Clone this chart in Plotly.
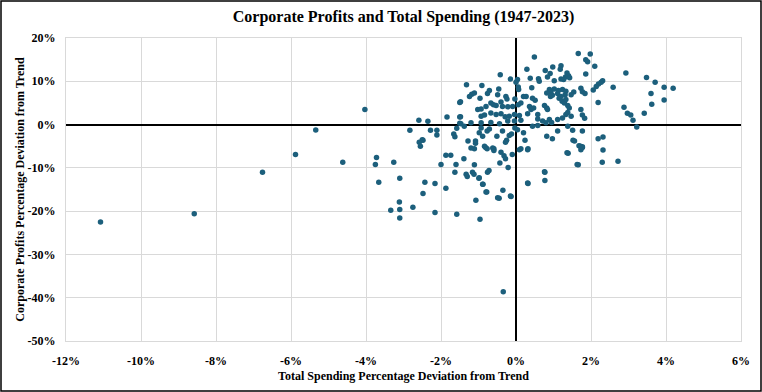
import plotly.graph_objects as go

# Total spending % deviation from trend (x) and corporate profits % deviation from trend (y)
spending_dev = [
    # upper central cluster
    1.66, 0.49, 0.29, 0.78, 0.98, 1.20, 1.18, 0.91, 1.36, 1.40, 1.32, -0.42,
    -0.15, 0.04, 0.00, 0.38, 0.60, 0.62, 0.84, 1.20, 1.02, 1.27, 1.43, -1.32, -0.91,
    0.06, 0.07, 0.42, 0.89, 0.93, 0.82, 1.02, 1.13, 1.24, 1.33, 1.54, -0.71, -0.46,
    -1.18, -1.11, -1.24, -0.76, -0.49, -0.27, -0.24, -0.03, 0.20, 0.27, 0.44, 0.51,
    0.92, 0.97, 1.11, 1.15, 1.20, 1.31, 1.47,
    -0.96, -1.48, -0.80, -0.67, -0.60, -0.53, -0.40, -0.36, -0.22, -0.09, 0.06, 0.13,
    0.36, 0.40, 0.47, 0.76, 0.82, 0.84, 1.23, 1.29, 1.33, 1.38, 1.42, -0.93, -1.02,
    -1.48, -0.93, -0.84, -0.67, -0.53, -0.40, -0.29, -0.18, -0.04, 0.09, 0.31, 0.58,
    0.58, 0.71, 0.80, 0.89, 0.95, 1.11, 1.24, 1.33, 1.38, 1.47, -1.47, -1.20, -0.93,
    -0.67, -0.44, -0.22, -0.04, 0.13,
    -1.38, -0.93, -0.98, -0.89, -0.77, -0.71, -0.51, -0.36, -0.18, -0.12, -0.03, 0.04,
    0.20, 0.44, 0.58, 0.82, 1.11, 1.38, 1.51,
    # left of centre, near zero
    -4.03, -2.83, -2.59, -2.35, -1.84, -2.28, -2.11, -2.11, -1.50, -1.50, -1.50, -1.58,
    -1.66, -1.63, -2.50, -2.58, -2.48, -2.55,
    # lower central cluster
    -1.28, -1.08, -1.08, -1.11, -1.39, -1.11, -1.16, -1.12, -1.30, -0.99, -0.88, -0.76,
    -0.72, -0.78, -1.07, -0.96, -0.45, -0.35, -0.13, -0.21, -0.43, -0.10, -0.40, -0.32,
    -0.28, -0.59, -0.59, -0.81, -0.25, -0.28, 0.13, 0.32, 0.24, 0.97, 0.32, 0.77, 0.77,
    1.39, 1.52, 1.56, 1.66, 1.68, 1.72, 1.73, 1.36, 1.63, 0.31, 0.09, 0.76, 0.31,
    -0.84, -0.62, -0.77, -1.20, -1.33, -0.98, -0.89, -0.80, -0.49, -0.15,
    # right side
    1.98, 1.86, 1.91, 2.10, 1.86, 2.93, 3.48, 3.71, 3.95, 4.19, 3.60, 3.95, 3.62, 2.59,
    2.31, 2.27, 2.20, 2.14, 2.06, 1.73, 1.77, 1.84, 2.19, 1.73, 1.77, 1.83, 2.88, 2.97,
    3.06, 3.12, 3.42, 3.22, 1.77, 2.19, 2.32, 2.32, 2.30, 2.72, 1.77, 1.77,
    # far left and lower left
    -5.34, -5.88, -6.76, -4.62, -3.72, -3.75, -3.66, -3.26, -3.10, -2.43, -2.16, -2.48,
    -1.87, -3.11, -3.34, -3.10, -2.75, -3.10, -2.16, -1.58, -2.00, -1.87, -1.74, -1.60,
    -1.63, -11.08, -8.58, -0.34,
]

profits_dev = [
    16.4, 15.6, 12.8, 12.5, 13.3, 13.6, 12.8, 11.8, 11.9, 11.3, 11.0, 11.5,
    10.5, 10.4, 9.8, 10.7, 10.6, 10.0, 11.0, 10.5, 10.1, 10.4, 10.8, 9.2, 9.0,
    8.7, 8.1, 8.5, 8.1, 7.6, 7.3, 8.2, 7.9, 8.1, 7.7, 7.5, 7.9, 8.2,
    7.0, 7.3, 6.5, 7.2, 6.9, 6.5, 5.9, 5.9, 6.5, 6.5, 6.1, 5.6,
    6.5, 6.8, 7.2, 6.1, 6.5, 6.9, 6.9,
    6.1, 5.3, 4.2, 5.0, 4.6, 4.4, 5.2, 4.2, 4.1, 4.2, 4.6, 5.0,
    4.2, 3.5, 3.8, 4.4, 3.8, 3.5, 5.4, 5.0, 5.8, 4.4, 3.8, 3.6, 3.5,
    1.8, 1.9, 2.2, 2.7, 2.3, 2.5, 1.8, 1.9, 2.3, 2.1, 2.5, 2.3,
    1.3, 0.8, 0.4, 1.2, 0.5, 1.2, 1.5, 2.3, 2.8, 1.9, 0.2, 0.4, 0.4,
    0.5, 0.2, 0.8, 0.8, 1.0,
    -0.4, -0.8, -1.9, -2.7, -1.5, -1.0, -2.7, -1.5, -2.5, -2.2, -0.8, -1.2,
    -1.9, -0.4, -0.2, -2.7, -1.5, -0.4, -1.3,
    3.5, -1.3, 1.0, 0.75, 1.75, -1.3, -1.3, -2.4, 5.1, 1.75, 0.3, -0.85,
    -2.2, -2.8, -3.5, -4.1, -3.6, -5.0,
    -3.8, -3.8, -4.3, -5.6, -7.9, -9.3, -11.0, -11.5, -12.0, -12.4, -13.8, -11.0,
    -10.6, -15.6, -17.5, -21.9, -17.0, -15.2, -16.6, -9.9, -8.9, -6.9, -6.4, -7.2,
    -7.9, -5.6, -6.0, -5.3, -3.6, -4.1, -5.6, -5.6, -3.6, -3.3, -13.6, -11.0, -12.9,
    -6.6, -3.6, -3.8, -9.3, -4.9, -5.0, -5.8, -6.5, -9.2, -5.8, -5.8, -10.9, -13.5,
    -5.0, -5.4, -5.6, -5.4, -11.5, -12.3, -13.8, -15.6, -16.9, -16.5,
    16.3, 15.0, 14.5, 13.5, 11.7, 11.9, 10.9, 9.8, 8.6, 8.4, 7.2, 5.7, 4.7, 8.6,
    10.1, 9.8, 9.4, 8.8, 8.0, 8.4, 7.6, 7.2, 5.1, 3.5, 2.2, 1.45, 4.0, 2.6,
    2.2, 1.0, 2.6, -0.55, -1.5, -3.3, -2.9, -5.9, -8.7, -8.5, -5.1, -5.3,
    -1.25, -6.9, -11.0, -8.7, -7.6, -9.2, -13.3, -8.7, -12.4, -13.3, -13.6, -15.9,
    -14.7, -17.9, -19.8, -19.6, -19.1, -21.6, -20.3, -20.7, -9.2, -7.1, -7.1, -9.2,
    -11.0, -22.5, -20.6, -38.6,
]

x_ticks = [-12, -10, -8, -6, -4, -2, 0, 2, 4, 6]
x_tick_labels = ["-12%", "-10%", "-8%", "-6%", "-4%", "-2%", "0%", "2%", "4%", "6%"]
y_ticks = [20, 10, 0, -10, -20, -30, -40, -50]
y_tick_labels = ["20%", "10%", "0%", "-10%", "-20%", "-30%", "-40%", "-50%"]

W, H = 762, 392
ML, MR, MT, MB = 66, 21, 38, 51
pw, ph = W - ML - MR, H - MT - MB

font_family = "Liberation Serif, Times New Roman, serif"

fig = go.Figure(
    go.Scatter(
        x=spending_dev,
        y=profits_dev,
        mode="markers",
        marker=dict(color="#1C5F7C", size=5.5, line=dict(width=0)),
        hoverinfo="x+y",
    )
)

fig.update_layout(
    width=W,
    height=H,
    margin=dict(l=ML, r=MR, t=MT, b=MB, pad=0, autoexpand=False),
    paper_bgcolor="white",
    plot_bgcolor="white",
    showlegend=False,
    title=dict(
        text="<b>Corporate Profits and Total Spending (1947-2023)</b>",
        x=0.5, xref="paper", xanchor="center",
        y=1 - 16 / H, yanchor="middle",
        font=dict(family=font_family, size=16, color="black"),
    ),
    font=dict(family=font_family, color="black"),
)

fig.update_xaxes(
    range=[-12, 6],
    tickvals=x_ticks,
    ticktext=["<b>%s</b>" % t for t in x_tick_labels],
    tickfont=dict(family=font_family, size=12, color="black"),
    showgrid=True, gridcolor="#D9D9D9", gridwidth=1,
    zeroline=True, zerolinecolor="black", zerolinewidth=2,
    showline=True, linecolor="#D9D9D9", linewidth=1, mirror=True,
    ticks="", ticklen=0, ticklabelstandoff=9,
    automargin=False,
    title=dict(
        text="<b>Total Spending Percentage Deviation from Trend</b>",
        font=dict(family=font_family, size=12, color="black"),
        standoff=4,
    ),
)

fig.update_yaxes(
    range=[-50, 20],
    tickvals=y_ticks,
    ticktext=["<b>%s</b>" % t for t in y_tick_labels],
    tickfont=dict(family=font_family, size=12, color="black"),
    showgrid=True, gridcolor="#D9D9D9", gridwidth=1,
    zeroline=True, zerolinecolor="black", zerolinewidth=2,
    showline=True, linecolor="#D9D9D9", linewidth=1, mirror=True,
    ticks="", ticklen=0, ticklabelstandoff=7,
    automargin=False,
    title=dict(
        text="<b>Corporate Profits Percentage Deviation from Trend</b>",
        font=dict(family=font_family, size=12, color="black"),
        standoff=0,
    ),
)

# outer black frame around whole figure
fig.add_shape(
    type="rect", xref="paper", yref="paper",
    x0=(-ML + 1) / pw, x1=(W - ML - 1) / pw,
    y0=(-MB + 1) / ph, y1=(H - MB - 1) / ph,
    line=dict(color="black", width=1.5), fillcolor="rgba(0,0,0,0)",
    layer="above",
)

fig.write_html(
    "out.html",
    config={"displayModeBar": False},
    post_script="document.body.style.margin='0';",
)
